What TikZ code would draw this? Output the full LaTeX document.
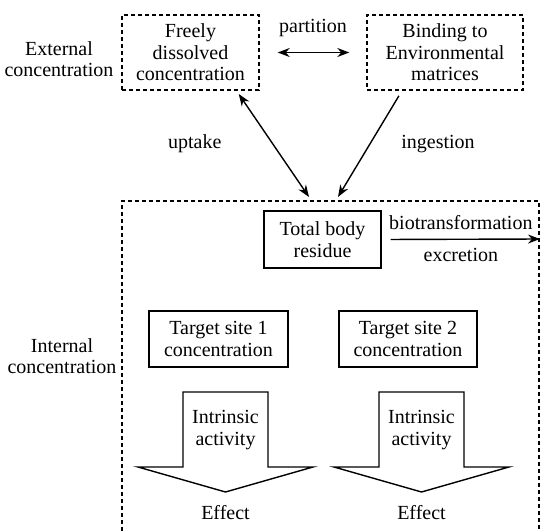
\documentclass[tikz,border=0pt]{standalone}
\usepackage{fontspec}
\setmainfont{Liberation Serif}
\usetikzlibrary{positioning, arrows.meta}

\tikzset{
  every node/.style={font=\fontsize{10}{10.75}\selectfont, align=center},
  dashbox/.style={draw, dash pattern=on 2pt off 1.5pt, line width=0.7pt},
  solidbox/.style={draw, line width=0.7pt},
  flow/.style={line width=0.7pt, -{Stealth[length=6pt, width=4.5pt]}},
  twoflow/.style={line width=0.7pt, {Stealth[length=6pt, width=4.5pt]}-{Stealth[length=6pt, width=4.5pt]}}
}

\begin{document}
\begin{tikzpicture}[x=0.5pt, y=-0.5pt]
        \useasboundingbox (0,0) rectangle (541,531);

        % outside the organism
        \node[dashbox, minimum width=68.5pt, minimum height=37.5pt] (free) at (190.5, 52.5) {Freely\\dissolved\\concentration};
        \node[dashbox, minimum width=78pt, minimum height=37.5pt] (bind) at (445, 52.5) {Binding to\\Environmental\\matrices};
        \node (ext) at (59, 59) {External\\concentration};

        \draw[twoflow, shorten <=9pt, shorten >=8.5pt] (free.east) to node[above=4pt] {partition} (bind.west);

        % organism
        \draw[dash pattern=on 2pt off 1.5pt, line width=0.7pt] (122, 531) -- (122, 201) -- (539, 201) -- (539, 531);
        \node (int) at (62, 356) {Internal\\concentration};

        \coordinate (upt) at (309, 197);
        \coordinate (ing) at (338, 197);
        \draw[twoflow, shorten <=2pt] ([xshift=23pt]free.south) to node[left=22pt] {uptake} (upt);
        \draw[flow, shorten <=3pt] ([xshift=-21.5pt]bind.south) to node[right=12pt] {ingestion} (ing);

        \node[solidbox, minimum width=58.5pt, minimum height=28.5pt] (body) at (322.5, 239.5) {Total body\\residue};
        \coordinate (out) at (540, 239);
        \draw[flow, shorten <=4.5pt] (body.east) to node[above=1pt] {biotransformation} node[below=1pt] {excretion} (out);

        \node[solidbox, minimum width=69.5pt, minimum height=28pt] (site1) at (218.5, 339) {Target site 1\\concentration};
        \node[solidbox, minimum width=69pt, minimum height=28pt] (site2) at (408, 339) {Target site 2\\concentration};

        % effect arrows
        \foreach \cx/\n in {225.5/1, 421.5/2} {
            \draw[line width=0.7pt, line join=miter] (\cx-42.5, 392) -- (\cx+42.5, 392) -- (\cx+42.5, 467) -- (\cx+87.5, 467)
                -- (\cx, 492) -- (\cx-87.5, 467) -- (\cx-42.5, 467) -- cycle;
            \node (act\n) at (\cx, 430) {Intrinsic\\activity};
            \node (eff\n) at (\cx, 513) {Effect};
        }
    \end{tikzpicture}
\end{document}
